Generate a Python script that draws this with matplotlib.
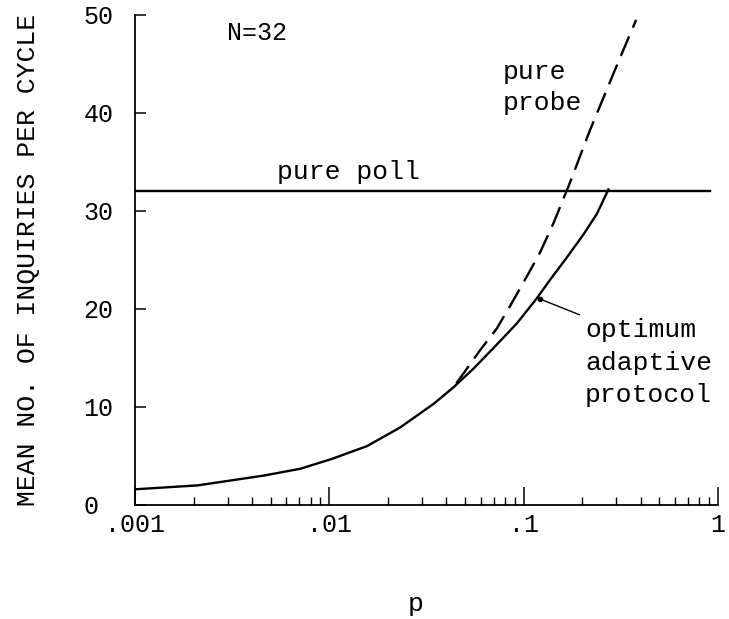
import numpy as np
import matplotlib
matplotlib.use('Agg')
import matplotlib.pyplot as plt
from matplotlib.ticker import LogLocator, NullFormatter


# Values (N = 32)
poll_p = [0.001, 0.91]
poll_v = [32, 32]

probe_p = [0.045, 0.0597, 0.0727, 0.0868, 0.1037, 0.121, 0.142, 0.170,
           0.220, 0.295, 0.379]
probe_v = [12.4, 15.8, 18.0, 20.6, 23.3, 25.7, 28.7, 32.5,
           38.3, 44.4, 49.5]

adaptive_p = [0.001, 0.0021, 0.0046, 0.0071, 0.0103, 0.0156, 0.0231, 0.0343,
              0.0435, 0.0551, 0.0698, 0.092, 0.117, 0.137, 0.166, 0.203,
              0.238, 0.273]
adaptive_v = [1.6, 2.0, 3.0, 3.7, 4.7, 6.0, 7.9, 10.3,
              12.0, 13.9, 16.0, 18.5, 21.1, 23.0, 25.2, 27.6,
              29.7, 32.2]

x_ticks = [0.001, 0.01, 0.1, 1]
x_tick_labels = ['.001', '.01', '.1', '1']
y_ticks = [0, 10, 20, 30, 40, 50]

plt.rcParams['font.family'] = ['Liberation Mono', 'DejaVu Sans Mono']

fig = plt.figure(figsize=(7.29, 6.19), dpi=100)
ax = fig.add_axes([0.1852, 0.1842, 0.7997, 0.7916])

# curves
ax.plot(poll_p, poll_v, color='black', lw=1.7)
ax.plot(probe_p, probe_v, color='black', lw=1.7, dashes=(9, 4))
ax.plot(adaptive_p, adaptive_v, color='black', lw=1.7)

ax.set_xscale('log')
ax.set_xlim(0.001, 1)
ax.set_ylim(0, 50)

# only left and bottom axes, ticks pointing in
for side in ['top', 'right']:
    ax.spines[side].set_visible(False)
for side in ['left', 'bottom']:
    ax.spines[side].set_linewidth(1.3)

ax.set_xticks(x_ticks, x_tick_labels)
ax.xaxis.set_minor_locator(LogLocator(base=10, subs=np.arange(2, 10)))
ax.xaxis.set_minor_formatter(NullFormatter())
ax.set_yticks(y_ticks)
ax.tick_params(axis='x', which='major', direction='in', length=13, width=1.1,
               labelsize=18, pad=6)
ax.tick_params(axis='x', which='minor', direction='in', length=6, width=1.0)
ax.tick_params(axis='y', which='major', direction='in', length=8, width=1.1,
               labelsize=18, pad=37)
for lab in ax.get_yticklabels():
    lab.set_horizontalalignment('left')

# axis labels
ax.set_ylabel('MEAN NO. OF INQUIRIES PER CYCLE', fontsize=19)
ax.yaxis.set_label_coords(-0.163, 0.5)
ax.set_xlabel('p', fontsize=19, va='baseline')
ax.xaxis.set_label_coords(0.482, -0.216)

# curve labels
ax.text(0.00425, 48.2, 'N=32', fontsize=18, ha='center', va='center')
ax.text(0.0126, 34.0, 'pure poll', fontsize=19, ha='center', va='center')
ax.text(0.0783, 42.6, 'pure\nprobe', fontsize=19, ha='left', va='center',
        linespacing=1.4)
ax.text(0.207, 14.5, 'optimum\nadaptive\nprotocol', fontsize=19, ha='left',
        va='center', linespacing=1.45)
ax.annotate('', xy=(0.122, 21.0), xytext=(0.2, 19.3),
            arrowprops=dict(arrowstyle='-', color='black', lw=1.0))
ax.plot([0.122], [21.0], marker='o', ms=3, color='black')

fig.savefig('out.png', dpi=100)
